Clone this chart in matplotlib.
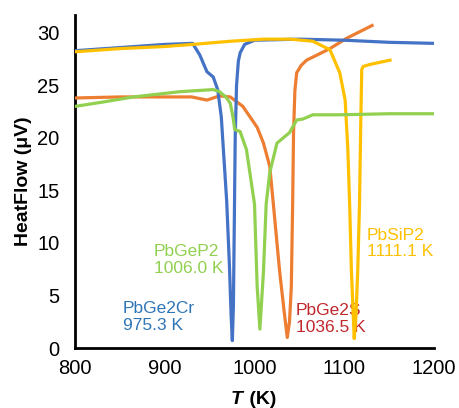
import matplotlib
matplotlib.use("Agg")
import matplotlib.pyplot as plt

plt.rcParams['font.family'] = ['Liberation Sans', 'DejaVu Sans']

# ---- data ----
cr_x = [800, 850, 900, 931, 939, 947, 954, 959, 963, 966, 969, 972, 974, 975.3,
        976.5, 977.5, 978.5, 980, 982, 984, 989, 1000, 1050, 1100, 1150, 1200]
cr_y = [28.3, 28.6, 28.9, 29.0, 27.9, 26.3, 25.8, 24.6, 22, 18, 14, 8, 3, 0.7,
        4, 12, 20, 25, 27.3, 28.1, 28.9, 29.3, 29.4, 29.3, 29.1, 29.0]

s_x = [800, 850, 900, 930, 947, 961, 973, 987, 1003, 1010, 1017, 1021, 1028, 1033,
       1036.5, 1039, 1041, 1042.5, 1043.5, 1045, 1047, 1052, 1058, 1070, 1084, 1103, 1131]
s_y = [23.8, 23.9, 23.9, 23.9, 23.6, 24.0, 23.9, 23.0, 21.0, 19.5, 17.3, 13.7, 7.3, 3.5,
       1.0, 2.5, 5.8, 13.7, 20.5, 24.5, 26.2, 26.9, 27.4, 27.9, 28.5, 29.5, 30.7]

p_x = [800, 830, 865, 917, 954, 961, 968, 973, 976, 978, 984, 991, 1000, 1003, 1006,
       1010, 1013, 1017, 1025, 1039, 1047, 1054, 1065, 1095, 1150, 1200]
p_y = [23.0, 23.4, 23.9, 24.4, 24.6, 24.4, 23.9, 23.3, 22.0, 20.8, 20.6, 18.9, 13.7, 5.8, 1.8,
       7.3, 13.7, 16.7, 19.5, 20.5, 21.7, 21.8, 22.2, 22.2, 22.3, 22.3]

si_x = [800, 850, 900, 931, 973, 1010, 1040, 1065, 1084, 1095, 1101, 1104, 1106, 1108,
        1111.1, 1113, 1115, 1117, 1118.5, 1119.5, 1121, 1129, 1140, 1151]
si_y = [28.2, 28.5, 28.7, 28.9, 29.2, 29.4, 29.4, 29.2, 28.4, 26.2, 23.6, 18.9, 13.7, 7.3,
        0.9, 3, 7.3, 13.7, 22, 26.5, 26.8, 27.0, 27.2, 27.4]

labels = ["PbGe2Cr\n975.3 K", "PbGe2S\n1036.5 K", "PbGeP2\n1006.0 K", "PbSiP2\n1111.1 K"]
label_x = [853, 1046, 888, 1125]
label_y = [2.95, 2.76, 8.4, 9.95]

xticks = [800, 900, 1000, 1100, 1200]
yticks = [0, 5, 10, 15, 20, 25, 30]

# ---- figure ----
W, H = 460, 408
fig = plt.figure(figsize=(W / 100, H / 100), dpi=100)
ax = fig.add_axes([75 / W, 1 - 348 / H, (434 - 75) / W, (348 - 15) / H])

line_cols = ["#4472C4", "#ED7D31", "#92D050", "#FFC000"]
text_cols = ["#2E75B6", "#C0282E", "#92D050", "#FFC000"]

ax.plot(s_x, s_y, color=line_cols[1], lw=2.3, zorder=3)
ax.plot(cr_x, cr_y, color=line_cols[0], lw=2.3, zorder=3)
ax.plot(si_x, si_y, color=line_cols[3], lw=2.3, zorder=3)
ax.plot(p_x, p_y, color=line_cols[2], lw=2.3, zorder=3)

for t, x, y, c in zip(labels, label_x, label_y, text_cols):
    ax.text(x, y, t, color=c, fontsize=12.5, ha='left', va='center',
            linespacing=1.15, zorder=2)

ax.set_xlim(800, 1200)
ax.set_ylim(0, 31.7)
ax.set_xticks(xticks)
ax.set_yticks(yticks)
ax.tick_params(length=0, labelsize=14.5)
ax.tick_params(axis='x', pad=8)
ax.tick_params(axis='y', pad=11)
for side in ['top', 'right']:
    ax.spines[side].set_visible(False)
for side in ['left', 'bottom']:
    ax.spines[side].set_linewidth(2)
    ax.spines[side].set_color('black')

ax.set_ylabel("HeatFlow (μV)", fontsize=14, fontweight='bold', labelpad=4)

fig.text(243 / W, 1 - 400 / H, "T", fontsize=14, fontweight='bold', fontstyle='italic',
         ha='right', va='center')
fig.text(244 / W, 1 - 400 / H, " (K)", fontsize=14, fontweight='bold',
         ha='left', va='center')

fig.savefig("out.png", dpi=100)
